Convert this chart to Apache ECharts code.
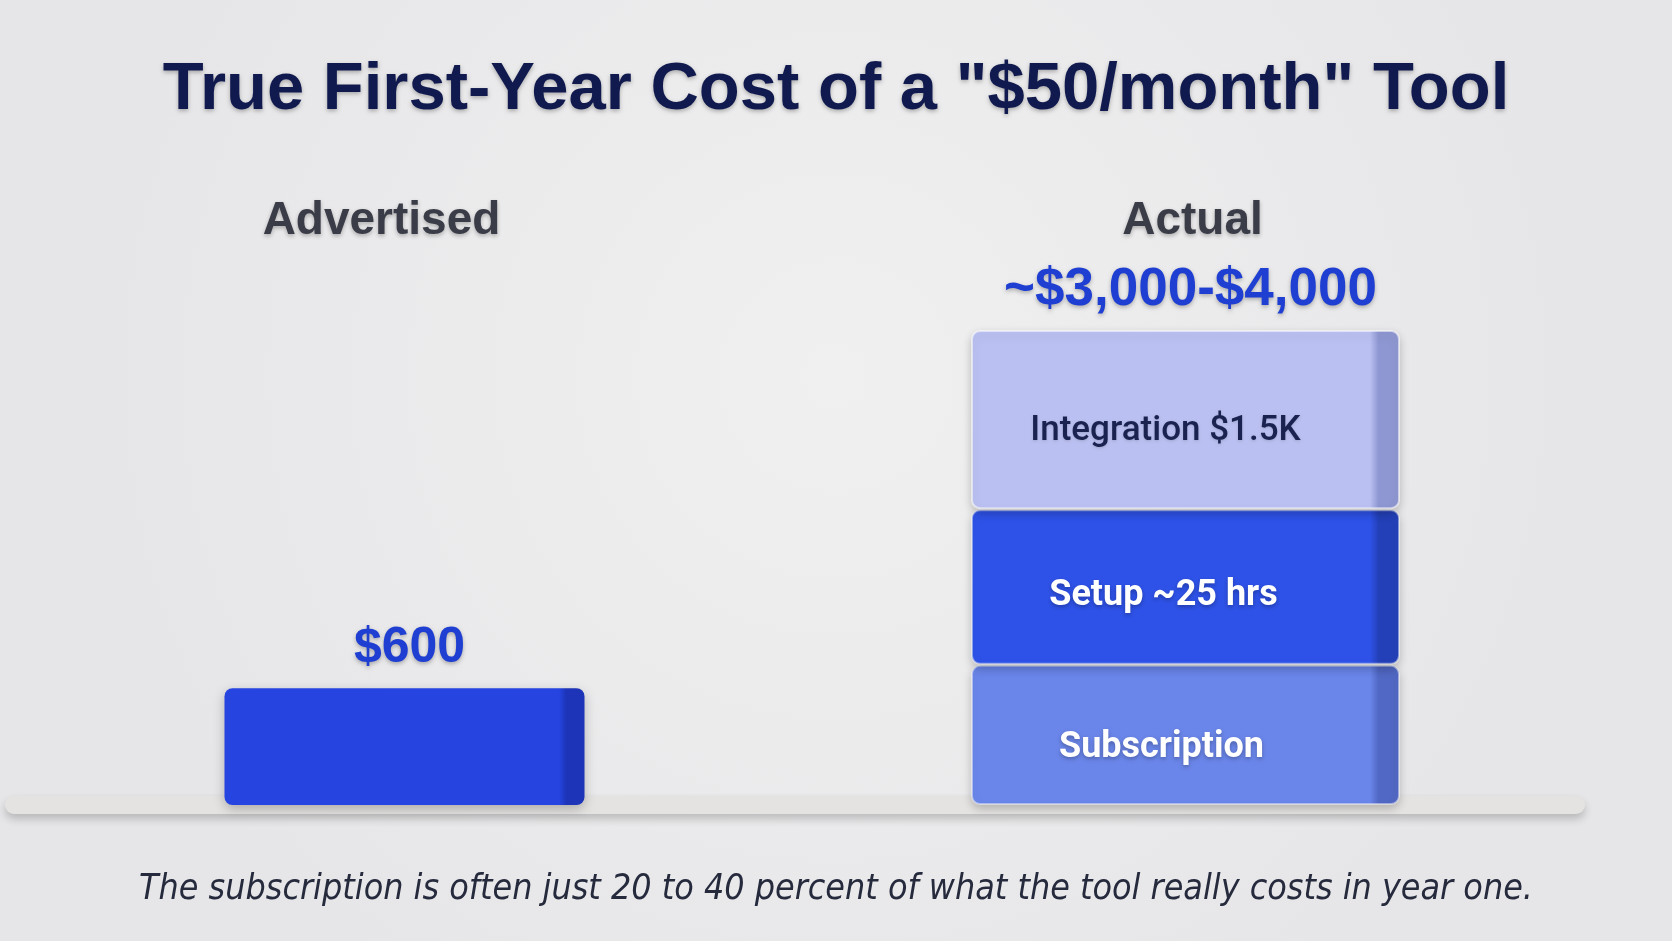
<!DOCTYPE html>
<html>
<head>
<meta charset="utf-8">
<script src="https://cdn.jsdelivr.net/npm/echarts@6/dist/echarts.min.js"></script>
<style>
  html, body { margin: 0; padding: 0; background: #ededee; }
  #chart-container { width: 1672px; height: 941px; }
</style>
</head>
<body>
<div id="chart-container"></div>
<script>
// values (block heights), labels as printed
var categories = ["Advertised", "Actual"];
var advertised = [600, "-"];
var subscription = ["-", 720];
var setup = ["-", 800];
var integration = ["-", 920];
var advertisedLabel = "$600";
var actualLabel = "~$3,000-$4,000";
var segmentLabels = ["Subscription", "Setup ~25 hrs", "Integration $1.5K"];
var titleText = 'True First-Year Cost of a "$50/month" Tool';
var noteText = "The subscription is often just 20 to 40 percent of what the tool really costs in year one.";

var dom = document.getElementById("chart-container");
var myChart = echarts.init(dom, null, { renderer: "canvas" });

// side face shading for the blocks
function block(base, side) {
  return new echarts.graphic.LinearGradient(0, 0, 1, 0, [
    { offset: 0, color: base },
    { offset: 0.93, color: base },
    { offset: 0.95, color: side },
    { offset: 1, color: side }
  ]);
}

var shadowText = {
  textShadowColor: "rgba(0,0,0,0.28)",
  textShadowBlur: 4,
  textShadowOffsetY: 2
};

var catText = Object.assign({
  fontFamily: "Liberation Sans",
  fontWeight: "bold",
  fontSize: 46,
  color: "#3a3c47"
}, shadowText);

var option = {
  backgroundColor: new echarts.graphic.RadialGradient(0.5, 0.4, 0.8, [
    { offset: 0, color: "#f0f0f1" },
    { offset: 1, color: "#e6e6e8" }
  ]),
  title: [
    {
      text: titleText,
      left: "center",
      top: 52,
      textStyle: Object.assign({
        fontFamily: "Liberation Sans",
        fontWeight: "bold",
        fontSize: 67,
        color: "#111a4e"
      }, shadowText)
    },
    {
      text: noteText,
      left: "center",
      top: 867,
      textStyle: {
        fontFamily: "DejaVu Sans Condensed",
        fontStyle: "italic",
        fontWeight: "normal",
        fontSize: 35.5,
        color: "#262a3d"
      }
    }
  ],
  grid: { left: 14, right: 96, top: 260, bottom: 136 },
  xAxis: [
    {
      type: "category",
      data: categories,
      position: "top",
      axisLine: { show: false },
      axisTick: { show: false },
      axisLabel: {
        margin: 16,
        formatter: function (v, i) {
          return i === 0 ? "{adv|" + v + "}" : "{act|" + v + "}";
        },
        rich: {
          adv: Object.assign({ padding: [0, 46, 0, 0] }, catText),
          act: Object.assign({ padding: [0, 0, 0, 14] }, catText)
        }
      }
    },
    {
      type: "category",
      data: categories,
      position: "bottom",
      axisLine: {
        lineStyle: {
          color: "#e4e3e2",
          width: 18,
          shadowColor: "rgba(0,0,0,0.2)",
          shadowBlur: 8,
          shadowOffsetY: 5
        }
      },
      axisTick: { show: false },
      axisLabel: { show: false }
    }
  ],
  yAxis: { type: "value", min: 0, max: 2800, show: false },
  series: [
    {
      name: "Advertised",
      type: "bar",
      xAxisIndex: 0,
      barWidth: 360,
      data: advertised,
      itemStyle: {
        color: block("#2544e0", "#1d34b8"),
        borderRadius: 8,
        shadowColor: "rgba(0,0,0,0.25)",
        shadowBlur: 12,
        shadowOffsetY: 4
      },
      label: Object.assign({
        show: true,
        position: "top",
        distance: 15,
        offset: [5, 0],
        formatter: function () { return advertisedLabel; },
        fontFamily: "Liberation Sans",
        fontWeight: "bold",
        fontSize: 50,
        color: "#1f3fd2"
      }, shadowText)
    },
    {
      name: segmentLabels[0],
      type: "bar",
      stack: "actual",
      xAxisIndex: 1,
      barWidth: 429,
      data: subscription,
      itemStyle: {
        color: block("#6a86ea", "#5168c4"),
        borderRadius: 8,
        borderColor: "rgba(255,255,255,0.45)",
        borderWidth: 2,
        shadowColor: "rgba(0,0,0,0.22)",
        shadowBlur: 10,
        shadowOffsetY: 4
      },
      label: Object.assign({
        show: true,
        position: "inside",
        offset: [-24, 13],
        formatter: function () { return segmentLabels[0]; },
        fontFamily: "Roboto",
        fontWeight: "bold",
        fontSize: 36,
        color: "#ffffff"
      }, shadowText)
    },
    {
      name: segmentLabels[1],
      type: "bar",
      stack: "actual",
      xAxisIndex: 1,
      barWidth: 429,
      data: setup,
      itemStyle: {
        color: block("#2e52e8", "#2440b8"),
        borderRadius: 8,
        borderColor: "rgba(255,255,255,0.45)",
        borderWidth: 2,
        shadowColor: "rgba(0,0,0,0.22)",
        shadowBlur: 10,
        shadowOffsetY: 4
      },
      label: Object.assign({
        show: true,
        position: "inside",
        offset: [-22, 9],
        formatter: function () { return segmentLabels[1]; },
        fontFamily: "Roboto",
        fontWeight: "bold",
        fontSize: 36,
        color: "#ffffff"
      }, shadowText)
    },
    {
      name: segmentLabels[2],
      type: "bar",
      stack: "actual",
      xAxisIndex: 1,
      barWidth: 429,
      data: integration,
      itemStyle: {
        color: block("#bac0f1", "#8f97d2"),
        borderRadius: 8,
        borderColor: "rgba(255,255,255,0.55)",
        borderWidth: 2,
        shadowColor: "rgba(0,0,0,0.22)",
        shadowBlur: 10,
        shadowOffsetY: 4
      },
      label: {
        show: true,
        position: "inside",
        offset: [-20, 12],
        formatter: function () { return segmentLabels[2]; },
        fontFamily: "Roboto",
        fontWeight: 500,
        fontSize: 35,
        color: "#1a2350",
        textShadowColor: "rgba(0,0,0,0.15)",
        textShadowBlur: 3,
        textShadowOffsetY: 1
      }
    },
    {
      name: "Actual total",
      type: "bar",
      stack: "actual",
      xAxisIndex: 1,
      barWidth: 429,
      data: ["-", 0],
      itemStyle: { color: "transparent" },
      label: Object.assign({
        show: true,
        position: "top",
        distance: 13,
        offset: [5, 0],
        formatter: function () { return actualLabel; },
        fontFamily: "Liberation Sans",
        fontWeight: "bold",
        fontSize: 53,
        color: "#1f3fd2"
      }, shadowText)
    }
  ]
};

myChart.setOption(option);
window.addEventListener("resize", myChart.resize);
</script>
</body>
</html>
